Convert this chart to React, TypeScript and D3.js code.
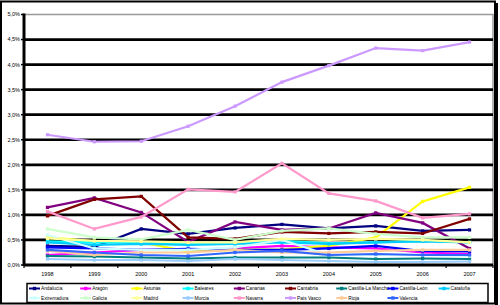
import React from "react";
import * as d3 from "d3";

const years = ["1998", "1999", "2000", "2001", "2002", "2003", "2004", "2005", "2006", "2007"];
const yTicks = [0, 0.5, 1, 1.5, 2, 2.5, 3, 3.5, 4, 4.5, 5];

const andalucia = [0.38, 0.36, 0.72, 0.62, 0.74, 0.81, 0.73, 0.78, 0.68, 0.7];
const aragon = [0.2, 0.25, 0.3, 0.3, 0.33, 0.38, 0.35, 0.33, 0.25, 0.22];
const asturias = [0.55, 0.47, 0.45, 0.27, 0.3, 0.31, 0.38, 0.55, 1.27, 1.55];
const baleares = [0.47, 0.45, 0.45, 0.42, 0.45, 0.48, 0.43, 0.45, 0.48, 0.45];
const canarias = [1.15, 1.34, 1.05, 0.46, 0.86, 0.7, 0.73, 1.04, 0.84, 0.33];
const cantabria = [0.98, 1.31, 1.37, 0.55, 0.52, 0.66, 0.63, 0.66, 0.63, 0.92];
const castillaMancha = [0.18, 0.17, 0.15, 0.13, 0.15, 0.15, 0.15, 0.12, 0.13, 0.12];
const castillaLeon = [0.35, 0.33, 0.3, 0.32, 0.3, 0.3, 0.33, 0.38, 0.28, 0.27];
const cataluna = [0.45, 0.4, 0.42, 0.4, 0.42, 0.45, 0.42, 0.45, 0.47, 0.45];
const extremadura = [0.6, 0.33, 0.3, 0.3, 0.35, 0.5, 0.2, 0.2, 0.2, 0.18];
const galicia = [0.72, 0.55, 0.51, 0.7, 0.5, 0.68, 0.73, 0.62, 0.55, 0.55];
const madrid = [0.53, 0.48, 0.47, 0.45, 0.45, 0.52, 0.5, 0.52, 0.5, 0.45];
const murcia = [0.12, 0.1, 0.1, 0.08, 0.12, 0.1, 0.08, 0.06, 0.06, 0.07];
const navarra = [1.07, 0.72, 0.96, 1.51, 1.46, 2.03, 1.43, 1.28, 0.94, 1.02];
const paisVasco = [2.6, 2.46, 2.47, 2.77, 3.17, 3.65, 3.98, 4.33, 4.28, 4.45];
const rioja = [0.28, 0.2, 0.25, 0.25, 0.3, 0.25, 0.25, 0.28, 0.3, 0.3];
const valencia = [0.3, 0.25, 0.2, 0.18, 0.25, 0.28, 0.2, 0.22, 0.2, 0.2];

const seriesNames = [
  "Andalucía", "Aragón", "Asturias", "Baleares", "Canarias", "Cantabria",
  "Castilla-La Mancha", "Castilla-León", "Cataluña", "Extremadura", "Galicia",
  "Madrid", "Murcia", "Navarra", "País Vasco", "Rioja", "Valencia",
];
const seriesValues = [
  andalucia, aragon, asturias, baleares, canarias, cantabria, castillaMancha,
  castillaLeon, cataluna, extremadura, galicia, madrid, murcia, navarra,
  paisVasco, rioja, valencia,
];
const seriesColors = [
  "#000080", "#FF00FF", "#FFFF00", "#00FFFF", "#800080", "#800000", "#008080",
  "#0000FF", "#00CCFF", "#CCFFFF", "#CCFFCC", "#FFFF99", "#99CCFF", "#FF99CC",
  "#CC99FF", "#FFCC99", "#3366FF",
];
const legendCols = [0, 1, 2, 3, 4, 5, 6, 7, 8, 0, 1, 2, 3, 4, 5, 6, 7];
const legendRows = [0, 0, 0, 0, 0, 0, 0, 0, 0, 1, 1, 1, 1, 1, 1, 1, 1];

const FONT = "'Liberation Sans', Arial, sans-serif";

export default function App() {
  const left = 24, right = 493, top = 14.5, bottom = 265;
  const x = d3.scaleBand<string>().domain(years).range([left, right]);
  const y = d3.scaleLinear().domain([0, 5]).range([bottom, top]);
  const line = d3
    .line<number>()
    .x((_, i) => (x(years[i]) as number) + x.bandwidth() / 2)
    .y((d) => y(d));
  const fmt = (v: number) => v.toFixed(1).replace(".", ",") + "%";
  const boundaries = d3.range(years.length + 1).map((i) => left + i * x.step());

  return (
    <svg
      width={500}
      height={305}
      style={{ position: "absolute", left: 0, top: 0, background: "#fff" }}
      fontFamily={FONT}
    >
      <rect x={1} y={1.5} width={494} height={302} fill="#fff" stroke="#000" strokeWidth={2} />
      <line x1={496.5} y1={3} x2={496.5} y2={305} stroke="#000" strokeWidth={3} />
      {/* plot border */}
      <rect x={left} y={top} width={right - left} height={bottom - top} fill="none" stroke="#999" strokeWidth={1.5} />
      {/* gridlines */}
      {yTicks.filter((t) => t > 0 && t < 5).map((t) => (
        <line key={t} x1={left} x2={right} y1={y(t)} y2={y(t)} stroke="#000" strokeWidth={2.7} />
      ))}
      {/* y axis */}
      <line x1={left} x2={left} y1={top - 1} y2={bottom + 1} stroke="#000" strokeWidth={3} />
      {yTicks.map((t) => (
        <g key={"yt" + t}>
          <line x1={left - 3} x2={left} y1={y(t)} y2={y(t)} stroke="#000" strokeWidth={1.5} />
          <text x={left - 4} y={y(t)} dy="0.35em" textAnchor="end" fontSize={5.5} fill="#000">
            {fmt(t)}
          </text>
        </g>
      ))}
      {/* series */}
      {seriesValues.map((vals, si) => (
        <g key={seriesNames[si]}>
          <path d={line(vals) || ""} fill="none" stroke={seriesColors[si]} strokeWidth={2.2} />
          {vals.map((v, i) => {
            const cx = (x(years[i]) as number) + x.bandwidth() / 2;
            const cy = y(v);
            return (
              <rect key={i} x={cx - 1.6} y={cy - 1.6} width={3.2} height={3.2} fill={seriesColors[si]} />
            );
          })}
        </g>
      ))}
      {/* x axis */}
      <line x1={left} x2={right} y1={bottom} y2={bottom} stroke="#000" strokeWidth={3} />
      {boundaries.map((b, i) => (
        <line key={"xt" + i} x1={b} x2={b} y1={bottom} y2={bottom + 3} stroke="#000" strokeWidth={1.2} />
      ))}
      {years.map((yr) => (
        <text key={yr} x={(x(yr) as number) + x.bandwidth() / 2} y={276} textAnchor="middle" fontSize={5.5} fill="#000">
          {yr}
        </text>
      ))}
      {/* legend */}
      <rect x={27} y={283.5} width={461} height={19} fill="#fff" stroke="#000" strokeWidth={1.5} />
      {seriesNames.map((name, si) => {
        const lx = 29 + legendCols[si] * 51.2;
        const ly = 288.5 + legendRows[si] * 9.5;
        return (
          <g key={"lg" + name}>
            <line x1={lx} x2={lx + 11} y1={ly} y2={ly} stroke={seriesColors[si]} strokeWidth={2} />
            <rect x={lx + 3.8} y={ly - 1.7} width={3.4} height={3.4} fill={seriesColors[si]} />
            <text x={lx + 12} y={ly} dy="0.35em" fontSize={4.8} fill="#000">
              {name}
            </text>
          </g>
        );
      })}
    </svg>
  );
}
